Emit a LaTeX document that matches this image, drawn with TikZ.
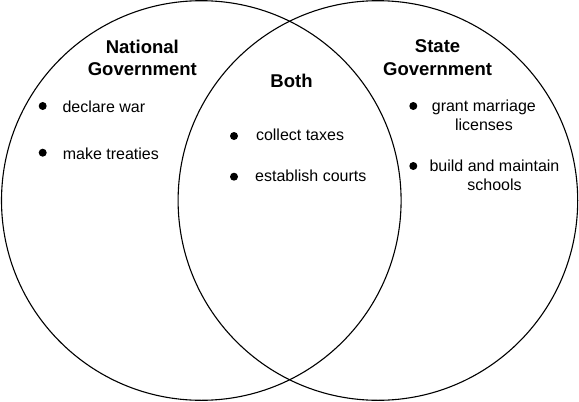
\documentclass[tikz,border=0pt]{standalone}
\usepackage{fontspec}
\setmainfont{Liberation Sans}
\begin{document}
\begin{tikzpicture}[x=1pt,y=-1pt,
  ring/.style={circle,draw=black,line width=1.1pt,minimum size=399.6pt,inner sep=0pt},
  head/.style={font=\fontsize{18.5}{22.7}\selectfont\bfseries,align=center,inner sep=0pt,anchor=base},
  item/.style={font=\fontsize{16}{19}\selectfont,inner sep=0pt,anchor=base west},
  citem/.style={font=\fontsize{16}{19}\selectfont,align=center,inner sep=0pt,anchor=base},
  dot/.style={circle,fill=black,minimum size=8pt,inner sep=0pt}]
\useasboundingbox (0,0) rectangle (579,402);
\fill[white] (0,0) rectangle (579,402);
\node[ring] (L) at (201.3,200.5) {};
\node[ring] (R) at (377.9,200.5) {};
% headings (base anchor = baseline of last line)
\node[head] (nat) at (142.3,75.8) {National\\Government};
\node[head] (both) at (291.5,87.3) {Both};
\node[head] (st) at (437.6,75.3) {State\\Government};
% national items
\node[dot] (b1) at (42.7,106) {};
\node[item] (t1) at (62.3,112.3) {declare war};
\node[dot] (b2) at (42.7,152.7) {};
\node[item] (t2) at (62.6,159) {make treaties};
% both items
\node[dot] (b3) at (234,136) {};
\node[item] (t3) at (255.8,140.7) {collect taxes};
\node[dot] (b4) at (234,176.7) {};
\node[item] (t4) at (255,181.7) {establish courts};
% state items
\node[dot] (b5) at (413.3,106) {};
\node[citem] (t5) at (483.9,130.7) {grant marriage\\licenses};
\node[dot] (b6) at (413.3,166) {};
\node[citem] (t6) at (494.5,190.7) {build and maintain\\schools};
\end{tikzpicture}
\end{document}
